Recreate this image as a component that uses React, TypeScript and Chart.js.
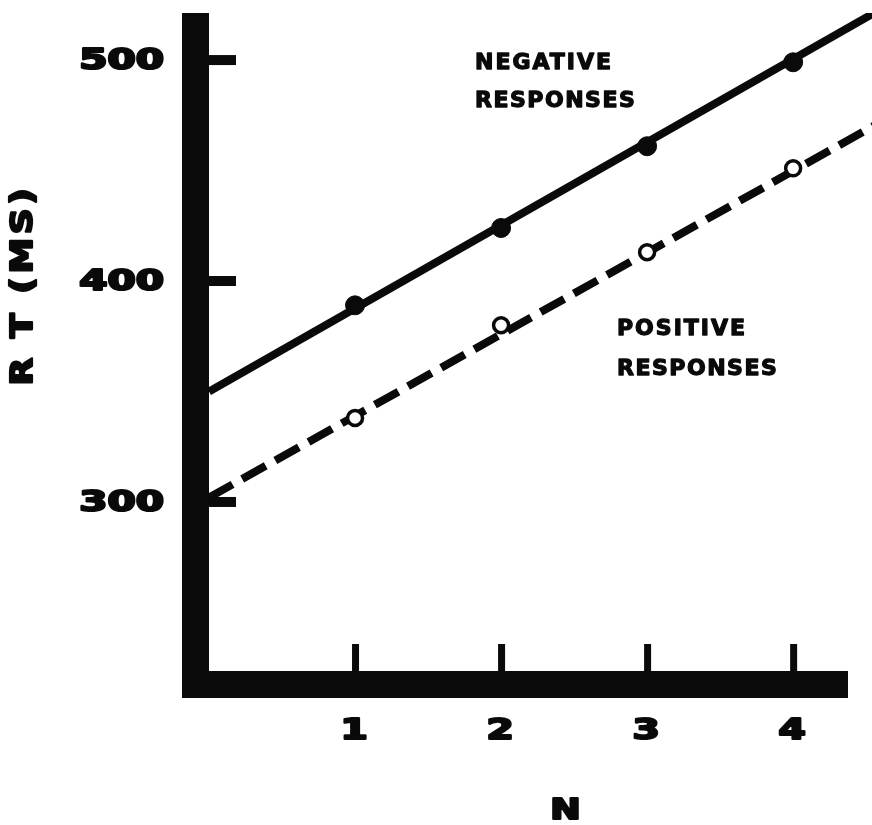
import React, { useEffect, useRef } from 'react';
import { Chart, registerables } from 'chart.js';

Chart.register(...registerables);

// ---- data ----
const setSizes = [1, 2, 3, 4];
const negativeRT = [389, 424, 461, 499];
const positiveRT = [338, 380, 413, 451];
const fitN = [0, 4.6];
const negativeFitRT = [350, 523];
const positiveFitRT = [302, 472];
const xTickValues = [1, 2, 3, 4];
const yTickValues = [300, 400, 500];
const xTitle = 'N';
const yTitle = 'R T (MS)';
const negativeLabel = ['NEGATIVE', 'RESPONSES'];
const positiveLabel = ['POSITIVE', 'RESPONSES'];

const INK = '#0a0a0a';
const WIDE_FONT = 'bold 28px "DejaVu Sans"';
const NOTE_FONT = 'bold 22px "DejaVu Sans"';

function stretched(ctx: CanvasRenderingContext2D, text: string, x: number, y: number, sx: number, align: CanvasTextAlign, weight: number) {
  ctx.save();
  ctx.translate(x, y);
  ctx.scale(sx, 1);
  ctx.textAlign = align;
  ctx.lineWidth = weight;
  ctx.lineJoin = 'round';
  ctx.strokeStyle = INK;
  ctx.fillText(text, 0, 0);
  ctx.strokeText(text, 0, 0);
  ctx.restore();
}

const heavyAxes = {
  id: 'heavyAxes',
  beforeDatasetsDraw(chart: any) {
    const { ctx, chartArea: a, scales } = chart;
    const xs = scales.x;
    const ys = scales.y;
    const bar = 27;
    ctx.save();
    ctx.fillStyle = INK;
    // vertical axis bar
    ctx.fillRect(a.left - bar, a.top, bar, a.bottom + bar - a.top);
    // horizontal axis bar
    ctx.fillRect(a.left - bar, a.bottom, a.right - 24 - (a.left - bar), bar);
    // inward tick stubs
    for (const t of ys.ticks) {
      const py = ys.getPixelForValue(t.value);
      ctx.fillRect(a.left, py - 5, 27, 10);
    }
    for (const t of xs.ticks) {
      const px = xs.getPixelForValue(t.value);
      ctx.fillRect(px - 3, a.bottom - 27, 7, 27);
    }
    // tick labels
    ctx.font = WIDE_FONT;
    ctx.textBaseline = 'middle';
    for (const t of ys.ticks) {
      const py = ys.getPixelForValue(t.value);
      stretched(ctx, String(t.value), a.left - bar - 18, py + 2, 1.45, 'right', 2.2);
    }
    for (const t of xs.ticks) {
      const px = xs.getPixelForValue(t.value);
      stretched(ctx, String(t.value), px - 1, a.bottom + 61, 1.4, 'center', 2.2);
    }
    // axis titles
    stretched(ctx, xTitle, (a.left + a.right) / 2 + 25, a.bottom + 141, 1.3, 'center', 2.2);
    ctx.save();
    ctx.translate(24, (a.top + a.bottom) / 2 - 57);
    ctx.rotate(-Math.PI / 2);
    (ctx as any).letterSpacing = '3px';
    ctx.font = 'bold 30px "DejaVu Sans"';
    stretched(ctx, yTitle, 0, 0, 1.2, 'center', 2.2);
    ctx.restore();
    // curve labels
    ctx.font = NOTE_FONT;
    ctx.textBaseline = 'alphabetic';
    const note = (text: string, x: number, y: number, spacing: string) => {
      (ctx as any).letterSpacing = spacing;
      stretched(ctx, text, x, y, 1.0, 'left', 1.3);
    };
    note(negativeLabel[0], 475, 69, '2px');
    note(negativeLabel[1], 475, 107, '1.5px');
    note(positiveLabel[0], 617, 335, '2px');
    note(positiveLabel[1], 617, 375, '1.5px');
    ctx.restore();
  },
};

export default function App() {
  const ref = useRef<HTMLCanvasElement | null>(null);
  useEffect(() => {
    if (!ref.current) return;
    const chart = new Chart(ref.current, {
      type: 'scatter',
      data: {
        datasets: [
          {
            label: 'Negative fit',
            type: 'line',
            data: fitN.map((n, i) => ({ x: n, y: negativeFitRT[i] })),
            borderColor: INK,
            borderWidth: 8,
            pointRadius: 0,
            clip: 0,
            order: 3,
          } as any,
          {
            label: 'Positive fit',
            type: 'line',
            data: fitN.map((n, i) => ({ x: n, y: positiveFitRT[i] })),
            borderColor: INK,
            borderWidth: 8,
            borderDash: [27, 11],
            borderCapStyle: 'butt',
            pointRadius: 0,
            clip: 0,
            order: 2,
          } as any,
          {
            label: 'Negative responses',
            data: setSizes.map((n, i) => ({ x: n, y: negativeRT[i] })),
            pointRadius: 9.5,
            backgroundColor: INK,
            borderColor: INK,
            order: 1,
          },
          {
            label: 'Positive responses',
            data: setSizes.map((n, i) => ({ x: n, y: positiveRT[i] })),
            pointRadius: 7.5,
            borderWidth: 3.5,
            backgroundColor: '#ffffff',
            borderColor: INK,
            order: 0,
          },
        ],
      },
      options: {
        animation: false,
        responsive: false,
        layout: { autoPadding: false, padding: { top: 13, right: 0, left: 0, bottom: 0 } },
        plugins: { legend: { display: false }, tooltip: { enabled: false } },
        scales: {
          x: {
            type: 'linear',
            min: 0,
            max: 4.54,
            grid: { display: false },
            border: { display: false },
            ticks: { display: false },
            afterBuildTicks: (s: any) => {
              s.ticks = xTickValues.map((v) => ({ value: v }));
            },
            afterFit: (s: any) => {
              s.height = 154;
            },
          },
          y: {
            type: 'linear',
            min: 223.5,
            max: 521.3,
            grid: { display: false },
            border: { display: false },
            ticks: { display: false },
            afterBuildTicks: (s: any) => {
              s.ticks = yTickValues.map((v) => ({ value: v }));
            },
            afterFit: (s: any) => {
              s.width = 209;
            },
          },
        },
      },
      plugins: [heavyAxes],
    });
    return () => chart.destroy();
  }, []);
  return (
    <div style={{ position: 'fixed', left: 0, top: 0, width: 872, height: 825, background: '#fff' }}>
      <canvas ref={ref} width={872} height={825} style={{ display: 'block' }} />
    </div>
  );
}
